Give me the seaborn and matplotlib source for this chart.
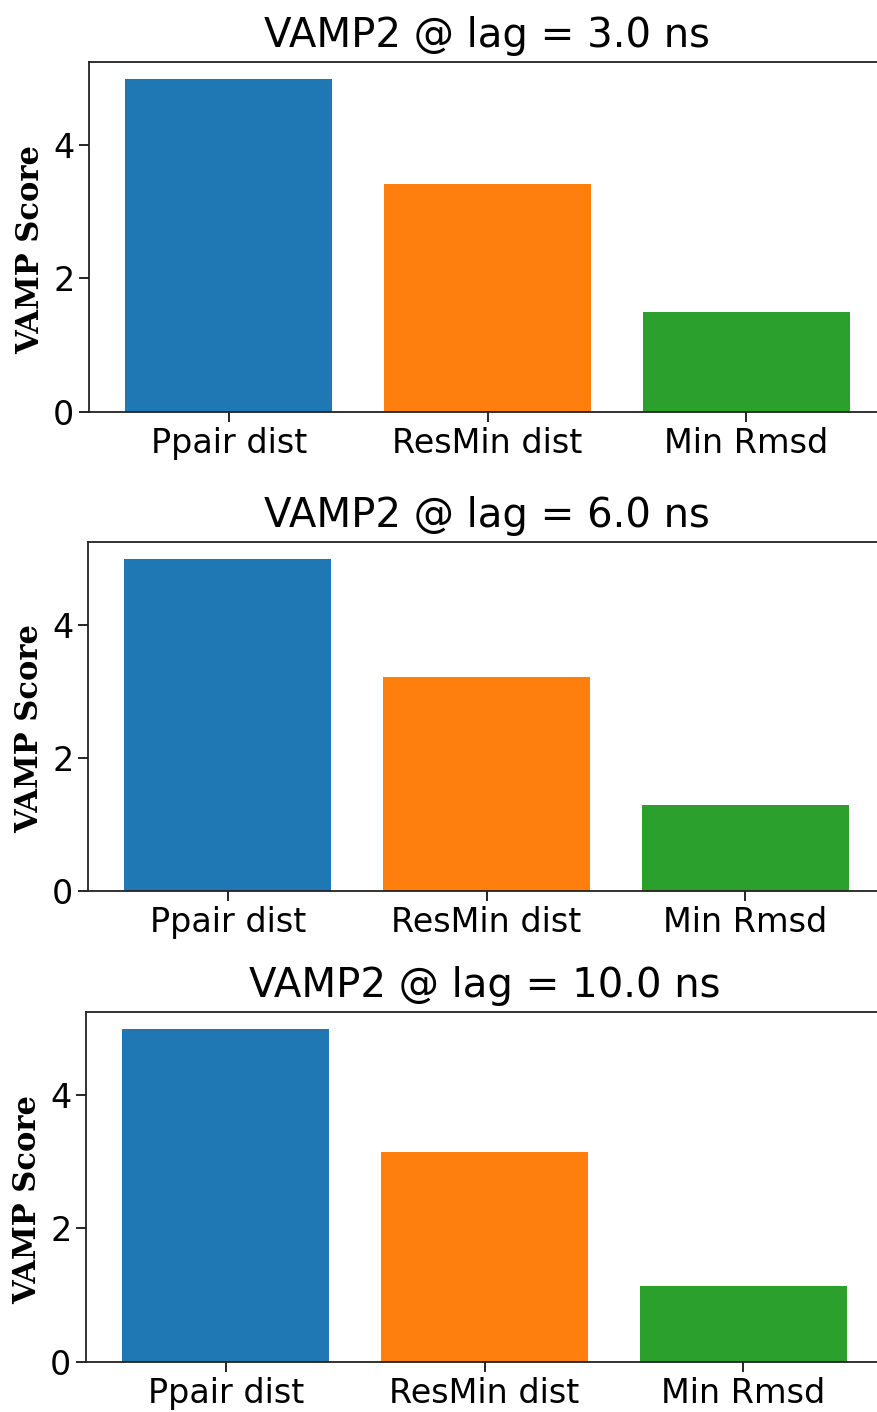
import numpy as np
import pandas as pd
import matplotlib
matplotlib.use("Agg")
import matplotlib.pyplot as plt
import seaborn as sns

# datos
metodos = ["Ppair dist", "ResMin dist", "Min Rmsd"]
lags = [3.0, 6.0, 10.0]
vamp_3ns = [4.99, 3.42, 1.50]
vamp_6ns = [4.98, 3.22, 1.29]
vamp_10ns = [4.99, 3.15, 1.14]
colores = ["#1f77b4", "#ff7f0e", "#2ca02c"]

sns.set_style("ticks")
plt.rcParams["font.family"] = ["DejaVu Sans"]
plt.rcParams["text.color"] = "black"
plt.rcParams["xtick.color"] = "black"
plt.rcParams["ytick.color"] = "black"

W, H = 877, 1412
fig = plt.figure(figsize=(W / 100, H / 100), dpi=100)

# posiciones de cada panel en pixeles (izq, arriba, abajo)
paneles = [(89, 62, 412), (88, 542, 891), (86, 1012, 1362)]
ancho_px = 797

for (izq, arriba, abajo), lag, scores in zip(paneles, lags, [vamp_3ns, vamp_6ns, vamp_10ns]):
    ax = fig.add_axes([izq / W, 1 - abajo / H, ancho_px / W, (abajo - arriba) / H])
    df = pd.DataFrame({"metodo": metodos, "score": scores})
    sns.barplot(data=df, x="metodo", y="score", hue="metodo", palette=colores,
                saturation=1, linewidth=0, legend=False, ax=ax)
    ax.set_xlim(-0.54, 2.54)
    ax.set_ylim(0, 5.24)
    ax.set_yticks([0, 2, 4])
    ax.set_title(f"VAMP2 @ lag = {lag} ns", fontsize=29, pad=11)
    ax.set_xlabel("")
    ax.set_ylabel("VAMP Score", fontsize=22, fontweight="bold",
                  family="DejaVu Serif", color="black")
    ax.yaxis.set_label_coords(-0.054, 0.465)
    ax.tick_params(axis="both", labelsize=24, length=7, width=1.2,
                   direction="out", colors="black")
    for s in ax.spines.values():
        s.set_visible(True)
        s.set_color("#222222")
        s.set_linewidth(1.3)

fig.savefig("out.png", dpi=100)
